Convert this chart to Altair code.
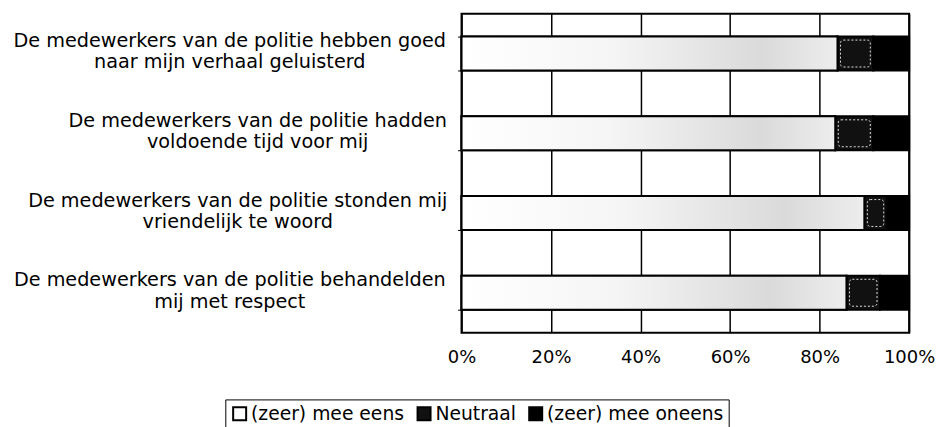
import altair as alt
import pandas as pd

# ---- data ----
categories = [
    "De medewerkers van de politie hebben goed|naar mijn verhaal geluisterd",
    "De medewerkers van de politie hadden|voldoende tijd voor mij",
    "De medewerkers van de politie stonden mij|vriendelijk te woord",
    "De medewerkers van de politie behandelden|mij met respect",
]
responses = ["(zeer) mee eens", "Neutraal", "(zeer) mee oneens"]
agree = [84.0, 83.5, 90.0, 86.0]
neutral = [8.0, 8.5, 5.0, 7.5]
disagree = [8.0, 8.0, 5.0, 6.5]
x_ticks = [0, 20, 40, 60, 80, 100]

FONT = "DejaVu Sans"

rows = []
for c, a, n, d in zip(categories, agree, neutral, disagree):
    for i, (r, v) in enumerate(zip(responses, [a, n, d])):
        rows.append({"cat": c, "resp": r, "val": v, "ord": i})
df = pd.DataFrame(rows)

seg = pd.DataFrame({
    "cat": categories,
    "a0": [0.0] * len(categories),
    "a1": agree,
    "n1": [a + n for a, n in zip(agree, neutral)],
})

y_enc = alt.Y(
    "cat:N",
    sort=categories,
    scale=alt.Scale(paddingInner=0.575, paddingOuter=0.2875),
    axis=alt.Axis(
        title=None,
        labelExpr="split(datum.label, '|')",
        labelAlign="center",
        labelBaseline="middle",
        labelFont=FONT,
        labelFontSize=19.3,
        labelColor="black",
        labelLineHeight=21.5,
        labelLimit=600,
        labelOffset=-13,
        labelPadding={
            "condition": [
                {"test": f"datum.value === '{categories[1]}'", "value": 201},
                {"test": f"datum.value === '{categories[2]}'", "value": 221},
            ],
            "value": 229,
        },
        tickBand="extent",
        tickSize=4,
        tickColor="black",
        tickWidth=1,
        domain=False,
        grid=False,
    ),
)

x_scale = alt.Scale(domain=[0, 100], nice=False)

base = alt.Chart(df).mark_bar(stroke="black", strokeWidth=2).encode(
    x=alt.X(
        "val:Q",
        stack="zero",
        scale=x_scale,
        axis=alt.Axis(
            title=None,
            values=x_ticks,
            labelExpr="datum.value + '%'",
            labelFont=FONT,
            labelFontSize=18,
            labelColor="black",
            labelPadding=16,
            labelFlush=False,
            labelOverlap=False,
            tickSize=0,
            domain=False,
            grid=True,
            gridColor="black",
            gridWidth=1.5,
            gridOpacity=1,
        ),
    ),
    y=y_enc,
    color=alt.Color(
        "resp:N",
        sort=responses,
        scale=alt.Scale(domain=responses, range=["white", "#111111", "black"]),
        legend=alt.Legend(
            title=None,
            orient="none",
            legendX=-237,
            legendY=387,
            direction="horizontal",
            strokeColor="black",
            padding=5,
            symbolType="square",
            symbolSize=170,
            symbolStrokeWidth=2,
            symbolStrokeColor="black",
            labelFont=FONT,
            labelFontSize=18.8,
            labelColor="black",
            labelOffset=2,
            columnPadding=8,
            labelLimit=400,
        ),
    ),
    order=alt.Order("ord:Q"),
)

grad = alt.Gradient(
    gradient="linear",
    stops=[
        alt.GradientStop(color="#ffffff", offset=0),
        alt.GradientStop(color="#f5f5f5", offset=0.4),
        alt.GradientStop(color="#dadada", offset=0.8),
        alt.GradientStop(color="#ededed", offset=1),
    ],
    x1=0, x2=1, y1=0, y2=0,
)

agree_layer = alt.Chart(seg).mark_bar(fill=grad, stroke="black", strokeWidth=2).encode(
    x=alt.X("a0:Q", scale=x_scale),
    x2="a1:Q",
    y=alt.Y("cat:N", sort=categories),
)

neutral_inset = alt.Chart(seg).mark_bar(
    fill="transparent",
    stroke="#dddddd",
    strokeWidth=1,
    strokeDash=[2, 2],
    cornerRadius=3,
    xOffset=3,
    x2Offset=-3,
    height=27,
).encode(
    x=alt.X("a1:Q", scale=x_scale),
    x2="n1:Q",
    y=alt.Y("cat:N", sort=categories),
)

chart = (
    alt.layer(base, agree_layer, neutral_inset)
    .properties(
        width=449,
        height=320,
        autosize=alt.AutoSizeParams(type="none"),
        padding={"left": 455, "top": 5, "right": 30, "bottom": 100},
        background="white",
    )
    .configure_view(stroke="black", strokeWidth=2)
)

chart.save("out.html", embed_options={"renderer": "svg", "actions": False})
